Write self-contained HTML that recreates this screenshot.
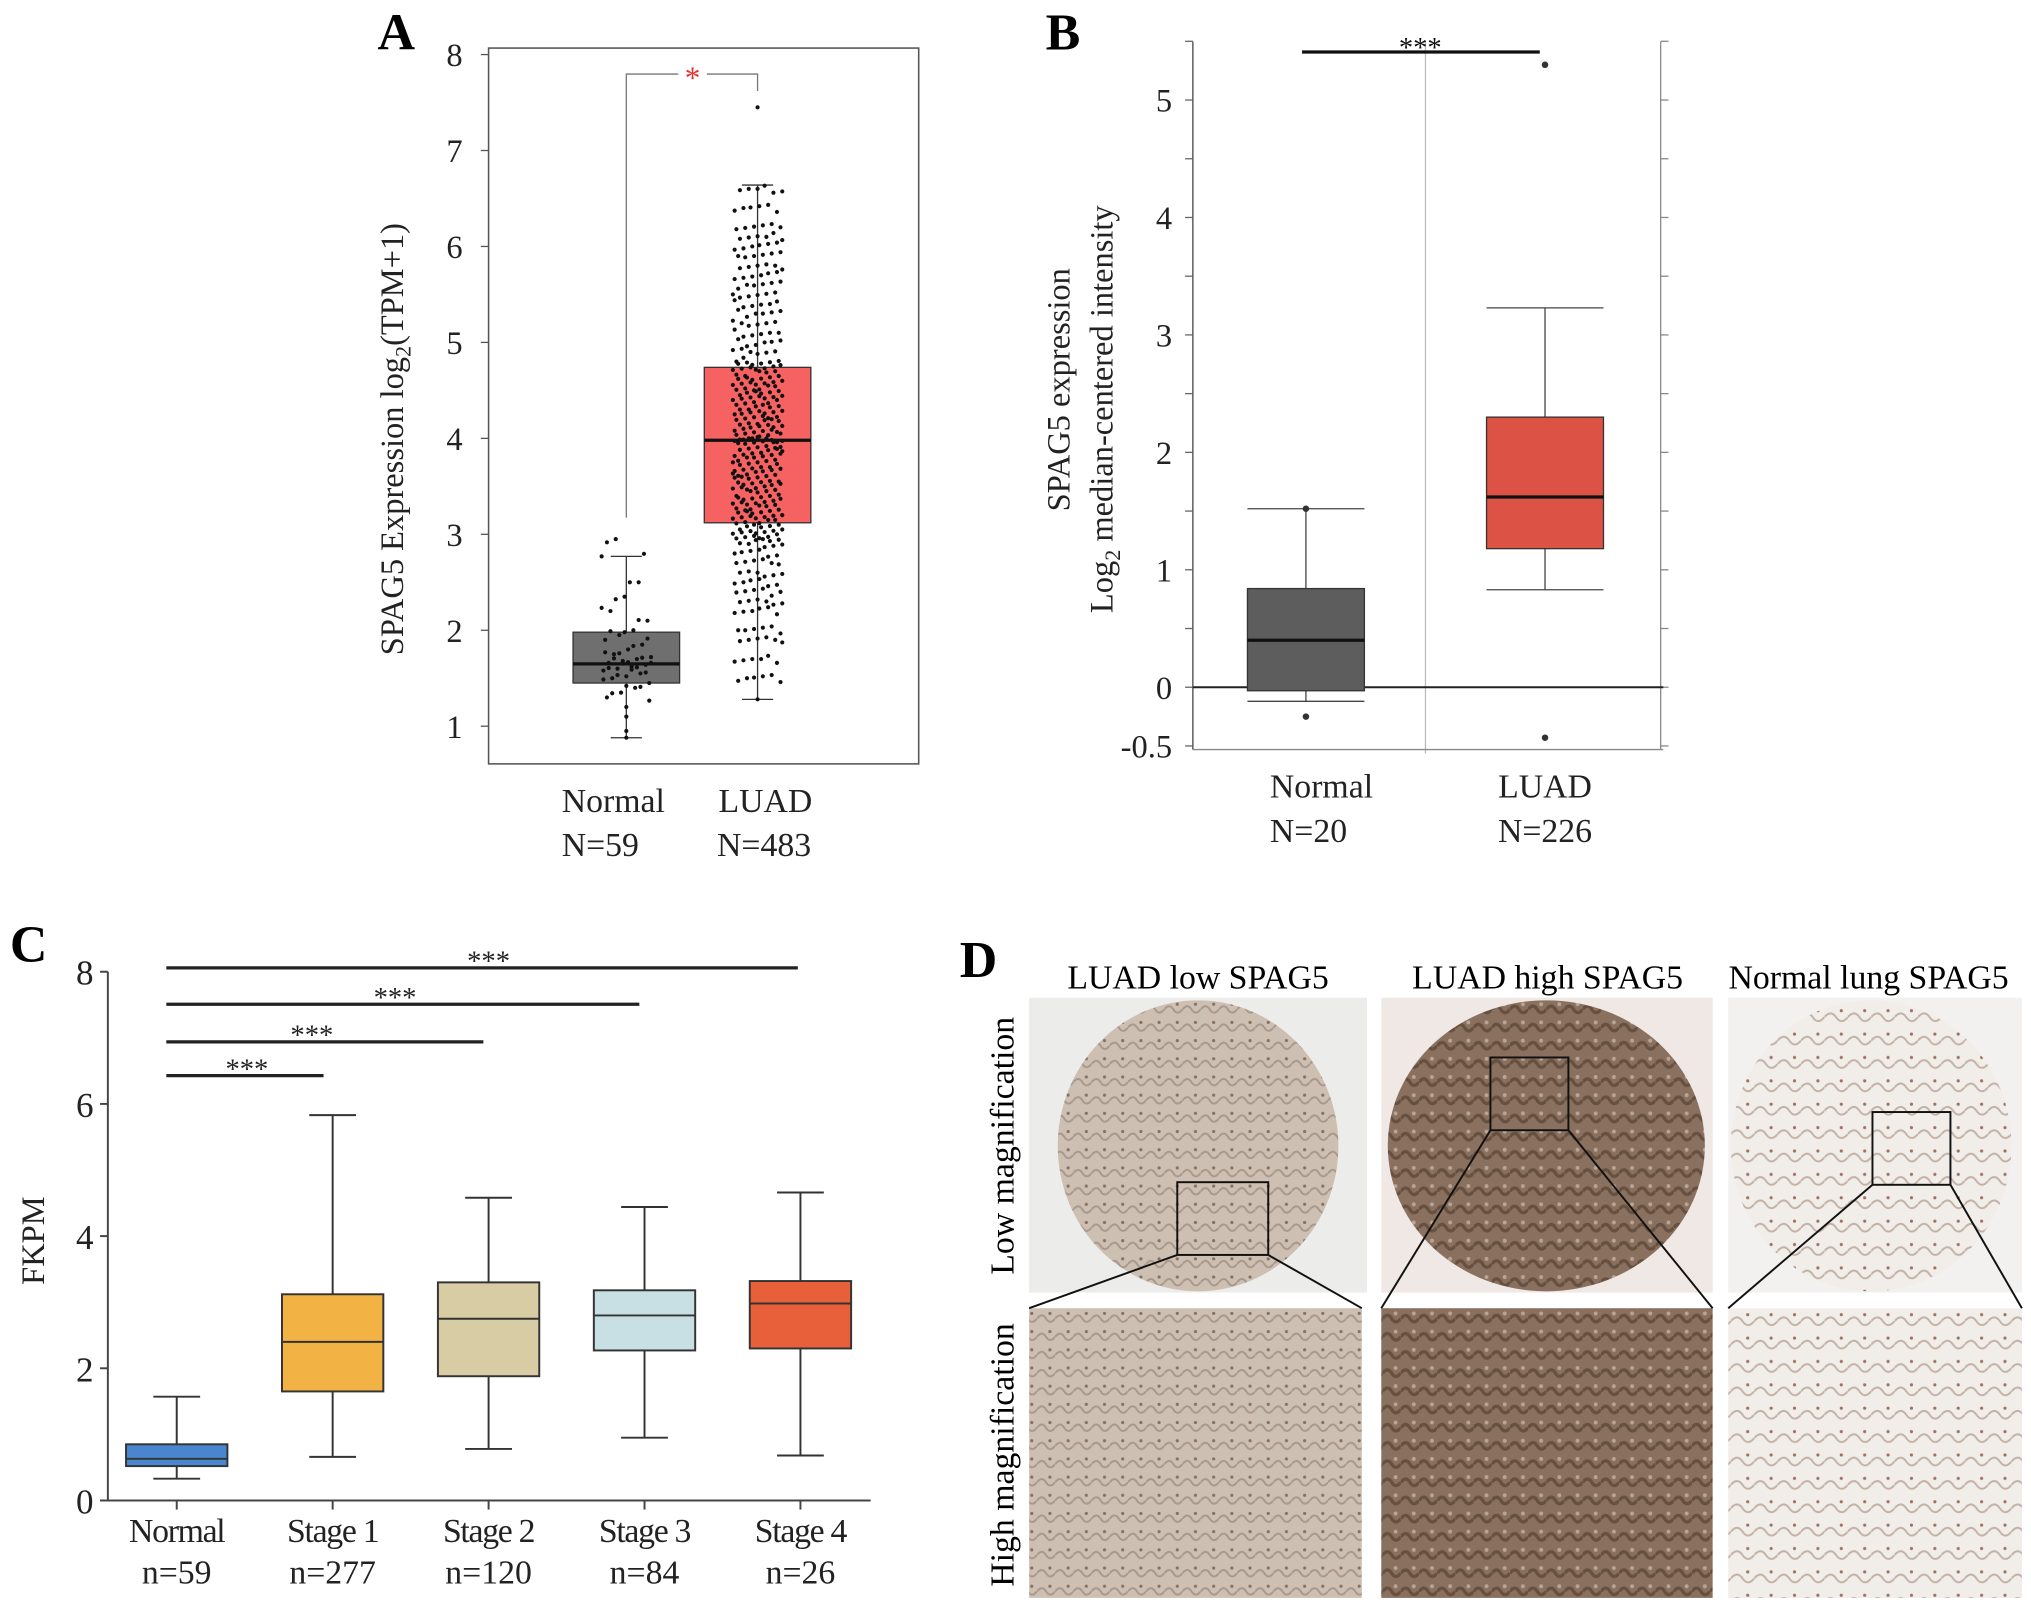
<!DOCTYPE html>
<html><head><meta charset="utf-8">
<style>
html,body{margin:0;padding:0;background:#fff;}
svg{display:block;font-family:"Liberation Serif",serif;}
</style></head>
<body>
<svg id="fig" width="2031" height="1607" viewBox="0 0 1563 1237" preserveAspectRatio="none" xmlns="http://www.w3.org/2000/svg">
<defs>
<pattern id="tex1" width="14" height="14" patternUnits="userSpaceOnUse"><rect width="14" height="14" fill="#cdbfb2"/><path d="M0 7 Q4 2 7 7 T14 7" stroke="#a8978a" fill="none" stroke-width="1.5"/><circle cx="10" cy="3" r="1.2" fill="#8a6f5c"/></pattern>
<pattern id="tex2" width="14" height="14" patternUnits="userSpaceOnUse"><rect width="14" height="14" fill="#8a705f"/><path d="M0 7 Q4 2 7 7 T14 7" stroke="#66503f" fill="none" stroke-width="2.5"/><circle cx="10" cy="3" r="1.5" fill="#b9a596"/></pattern>
<pattern id="tex3" width="18" height="18" patternUnits="userSpaceOnUse"><rect width="18" height="18" fill="#f1ede9"/><path d="M0 9 Q5 3 9 9 T18 9" stroke="#c4b1a5" fill="none" stroke-width="1.5"/><circle cx="13" cy="4" r="1.2" fill="#a07060"/></pattern>
</defs>
<g id="panelA"></g>
<g id="panelB"></g>
<g id="panelC"></g>
<g id="panelD">
  <text x="753" y="752" font-size="40" font-weight="bold" text-anchor="middle">D</text>
  <text x="922" y="761" font-size="26" text-anchor="middle">LUAD low SPAG5</text>
  <text x="1191" y="761" font-size="26" text-anchor="middle">LUAD high SPAG5</text>
  <text x="1438" y="761" font-size="26" text-anchor="middle">Normal lung SPAG5</text>
  <text transform="translate(780,882) rotate(-90)" font-size="26" text-anchor="middle">Low magnification</text>
  <text transform="translate(780,1120) rotate(-90)" font-size="26" text-anchor="middle">High magnification</text>
  <rect x="792" y="768" width="260" height="227" fill="#ececea"/>
  <ellipse cx="922" cy="882" rx="108" ry="112" fill="url(#tex1)"/>
  <rect x="906" y="910" width="70" height="56" fill="none" stroke="#111" stroke-width="1.5"/>
  <rect x="1063" y="768" width="255" height="227" fill="#efe8e4"/>
  <ellipse cx="1190" cy="882" rx="122" ry="112" fill="url(#tex2)"/>
  <rect x="1147" y="814" width="60" height="56" fill="none" stroke="#111" stroke-width="1.5"/>
  <rect x="1330" y="768" width="226" height="227" fill="#f3f1f0"/>
  <ellipse cx="1440" cy="882" rx="108" ry="112" fill="url(#tex3)"/>
  <rect x="1441" y="856" width="60" height="56" fill="none" stroke="#111" stroke-width="1.5"/>
  <rect x="792" y="1007" width="256" height="223" fill="url(#tex1)"/>
  <rect x="1063" y="1007" width="255" height="223" fill="url(#tex2)"/>
  <rect x="1330" y="1007" width="226" height="223" fill="url(#tex3)"/>
  <g stroke="#111" stroke-width="1.5">
    <line x1="906" y1="966" x2="792" y2="1007"/><line x1="976" y1="966" x2="1048" y2="1007"/>
    <line x1="1147" y1="870" x2="1063" y2="1007"/><line x1="1207" y1="870" x2="1318" y2="1007"/>
    <line x1="1441" y1="912" x2="1330" y2="1007"/><line x1="1501" y1="912" x2="1556" y2="1007"/>
  </g>
</g>
</svg>
<script>
// ---------- Panel A data ----------
const aCats = ["Normal", "LUAD"];
const aCounts = ["N=59", "N=483"];
const aTicks = [1,2,3,4,5,6,7,8];
const aWhiskLo = [0.88, 1.28];
const aQ1 = [1.45, 3.12];
const aMed = [1.65, 3.98];
const aQ3 = [1.98, 4.74];
const aWhiskHi = [2.77, 6.64];
const aNormalPts = [0.88,0.95,1.1,1.2,1.3,1.35,1.4,1.45,1.5,1.52,1.55,1.58,1.6,1.62,1.64,1.66,1.68,1.7,1.72,1.75,1.8,1.85,1.9,1.95,2.0,2.1,2.2,2.35,2.5,2.77,2.95];
const aLuadPts = [1.28,1.5,1.7,1.9,2.0,2.2,2.3,2.4,2.5,2.6,2.7,2.8,2.9,2.95,3.0,3.05,3.1,3.15,3.2,3.25,3.3,3.35,3.4,3.45,3.5,3.55,3.6,3.65,3.7,3.75,3.8,3.85,3.9,3.95,4.0,4.0,4.05,4.1,4.15,4.2,4.25,4.3,4.35,4.4,4.45,4.5,4.55,4.6,4.65,4.7,4.75,4.8,4.9,5.0,5.1,5.2,5.3,5.4,5.5,5.6,5.7,5.8,5.9,6.0,6.1,6.2,6.4,6.6,7.45];
// ---------- Panel B data ----------
const bCats = ["Normal", "LUAD"];
const bCounts = ["N=20", "N=226"];
const bTicks = [-0.5,0,1,2,3,4,5];
const bWhiskLo = [-0.12, 0.83];
const bQ1 = [-0.03, 1.18];
const bMed = [0.40, 1.62];
const bQ3 = [0.84, 2.30];
const bWhiskHi = [1.52, 3.23];
const bOutliers = [[-0.25, 1.52], [5.3, -0.43]];
// ---------- Panel C data ----------
const cCats = ["Normal", "Stage 1", "Stage 2", "Stage 3", "Stage 4"];
const cCounts = ["n=59", "n=277", "n=120", "n=84", "n=26"];
const cTicks = [0,2,4,6,8];
const cWhiskLo = [0.33, 0.66, 0.78, 0.95, 0.68];
const cQ1 = [0.52, 1.65, 1.88, 2.27, 2.30];
const cMed = [0.63, 2.40, 2.75, 2.80, 2.98];
const cQ3 = [0.85, 3.12, 3.30, 3.18, 3.32];
const cWhiskHi = [1.57, 5.83, 4.58, 4.44, 4.66];
const cColors = ["#4a86d0", "#f3b344", "#d8cca5", "#c8dfe4", "#e8603a"];
const cSigTo = [1, 2, 3, 4];

const NS = "http://www.w3.org/2000/svg";
function mk(parent, tag, attrs, text) {
  const e = document.createElementNS(NS, tag);
  for (const k in attrs) e.setAttribute(k, attrs[k]);
  if (text !== undefined) e.textContent = text;
  parent.appendChild(e);
  return e;
}
let el;

// ================= Panel A =================
(function(){
  const g = document.getElementById("panelA");
  const yA = v => 559 - (v - 1) * (559 - 42) / 7;
  const xA = i => [482, 583][i];
  el = mk(g, "text", {x:305, y:38, "font-size":40, "font-weight":"bold", "text-anchor":"middle"}, "A");
  
  
  el = mk(g, "rect", {x:376, y:37, width:331, height:551, fill:"none", stroke:"#555", "stroke-width":1.2});
  
  
  aTicks.forEach(t => {
    el = mk(g, "line", {x1:370, x2:376, y1:yA(t), y2:yA(t), stroke:"#555"});
    
    
    el = mk(g, "text", {x:356, y:yA(t)+9, "font-size":25, "text-anchor":"end", fill:"#222"}, t);
    
    
  });
  el = mk(g, "text", {transform:"translate(310,338) rotate(-90)", "font-size":25, "text-anchor":"middle", fill:"#222"});
  
  
  el.innerHTML = 'SPAG5 Expression log<tspan font-size="17" dy="6">2</tspan><tspan dy="-6">(TPM+1)</tspan>';
  const fills = ["#6f6f6f", "#f66262"];
  const labX = [472, 589], cntX = [462, 588];
  aCats.forEach((c, i) => {
    const x = xA(i), w = 41;
    el = mk(g, "line", {x1:x, x2:x, y1:yA(aWhiskLo[i]), y2:yA(aWhiskHi[i]), stroke:"#333", "stroke-width":1});
    
    
    [aWhiskLo[i], aWhiskHi[i]].forEach(v => {
      el = mk(g, "line", {x1:x-12, x2:x+12, y1:yA(v), y2:yA(v), stroke:"#333"});
      
      
    });
    el = mk(g, "rect", {x:x-w, y:yA(aQ3[i]), width:2*w, height:yA(aQ1[i])-yA(aQ3[i]), fill:fills[i], stroke:"#333", "stroke-width":1});
    
    
    el = mk(g, "line", {x1:x-w, x2:x+w, y1:yA(aMed[i]), y2:yA(aMed[i]), stroke:"#111", "stroke-width":2.5});
    
    
    el = mk(g, "text", {x:labX[i], y:625, "font-size":26, "text-anchor":"middle", fill:"#222"}, c);
    
    
    el = mk(g, "text", {x:cntX[i], y:659, "font-size":26, "text-anchor":"middle", fill:"#222"}, aCounts[i]);
    
    
  });
  const pts = [aNormalPts, aLuadPts];
  pts.forEach((arr, i) => {
    arr.forEach((v, j) => {
      const reps = (v > 6.65 || v < 1.3) ? 1 : (i === 0 ? 2 : 6);
      for (let r = 0; r < reps; r++) {
        const jit = reps === 1 ? 0 : (((j * 37 + r * 53) % 29) / 28 - 0.5) * 38;
        const dv = r === 0 ? 0 : ((((j * 17 + r * 11) % 13) / 12) - 0.5) * 0.08;
        el = mk(g, "circle", {cx:xA(i)+jit, cy:yA(v+dv), r:1.6, fill:"#111"});
        
        
      }
    });
  });
  el = mk(g, "path", {d:`M482 ${yA(3.12)-4} V57 H583 V70`, fill:"none", stroke:"#777", "stroke-width":1});
  
  
  el = mk(g, "rect", {x:522, y:48, width:22, height:16, fill:"#fff"});
  el = mk(g, "text", {x:533, y:68, "font-size":24, "text-anchor":"middle", fill:"#e83030"}, "*");
  
  
})();

// ================= Panel B =================
(function(){
  const g = document.getElementById("panelB");
  const yB = v => 529 - v * (529 - 77) / 5;
  const xB = i => [1005, 1189][i];
  el = mk(g, "text", {x:818, y:38, "font-size":40, "font-weight":"bold", "text-anchor":"middle"}, "B");
  
  
  el = mk(g, "line", {x1:918, x2:918, y1:32, y2:577, stroke:"#444"});
  
  
  el = mk(g, "line", {x1:1278, x2:1278, y1:32, y2:577, stroke:"#888"});
  
  
  el = mk(g, "line", {x1:1097, x2:1097, y1:32, y2:580, stroke:"#bbb"});
  
  
  el = mk(g, "line", {x1:918, x2:1280, y1:577, y2:577, stroke:"#888"});
  
  
  for (let k = -0.5; k <= 5.5; k += 0.5) {
    el = mk(g, "line", {x1:912, x2:918, y1:yB(k), y2:yB(k), stroke:"#666"});
    el = mk(g, "line", {x1:1278, x2:1284, y1:yB(k), y2:yB(k), stroke:"#888"});
  }
  bTicks.forEach(t => {
    el = mk(g, "text", {x:902, y:yB(t)+9, "font-size":25, "text-anchor":"end", fill:"#222"}, t);
    
    
  });
  el = mk(g, "line", {x1:918, x2:1280, y1:yB(0), y2:yB(0), stroke:"#222", "stroke-width":1.5});
  
  
  el = mk(g, "text", {transform:"translate(823,300) rotate(-90)", "font-size":25, "text-anchor":"middle", fill:"#222"}, "SPAG5 expression");
  
  
  el = mk(g, "text", {transform:"translate(856,315) rotate(-90)", "font-size":25, "text-anchor":"middle", fill:"#222"});
  
  
  el.innerHTML = 'Log<tspan font-size="17" dy="6">2</tspan><tspan dy="-6"> median-centered intensity</tspan>';
  const fills = ["#5d5d5d", "#dc5245"];
  bCats.forEach((c, i) => {
    const x = xB(i), w = 45;
    el = mk(g, "line", {x1:x, x2:x, y1:yB(bWhiskLo[i]), y2:yB(bWhiskHi[i]), stroke:"#444"});
    
    
    [bWhiskLo[i], bWhiskHi[i]].forEach(v => {
      el = mk(g, "line", {x1:x-45, x2:x+45, y1:yB(v), y2:yB(v), stroke:"#444"});
      
      
    });
    el = mk(g, "rect", {x:x-w, y:yB(bQ3[i]), width:2*w, height:yB(bQ1[i])-yB(bQ3[i]), fill:fills[i], stroke:"#333"});
    
    
    el = mk(g, "line", {x1:x-w, x2:x+w, y1:yB(bMed[i]), y2:yB(bMed[i]), stroke:"#111", "stroke-width":2.5});
    
    
    bOutliers[i].forEach(v => {
      el = mk(g, "circle", {cx:x, cy:yB(v), r:2.5, fill:"#333"});
      
      
    });
    el = mk(g, "text", {x:x+12-i*12, y:614, "font-size":26, "text-anchor":"middle", fill:"#222"}, c);
    
    
    el = mk(g, "text", {x:x+2-i*2, y:648, "font-size":26, "text-anchor":"middle", fill:"#222"}, bCounts[i]);
    
    
  });
  el = mk(g, "line", {x1:1002, x2:1185, y1:40, y2:40, stroke:"#111", "stroke-width":2.5});
  
  
  el = mk(g, "text", {x:1093, y:44, "font-size":22, "text-anchor":"middle", fill:"#111"}, "***");
  
  
})();

// ================= Panel C =================
(function(){
  const g = document.getElementById("panelC");
  const yC = v => 1155 - v * (1155 - 748) / 8;
  const xC = i => 136 + i * 120;
  el = mk(g, "text", {x:22, y:740, "font-size":40, "font-weight":"bold", "text-anchor":"middle"}, "C");
  
  
  el = mk(g, "line", {x1:83, x2:83, y1:748, y2:1155, stroke:"#444", "stroke-width":1.5});
  
  
  el = mk(g, "line", {x1:77, x2:670, y1:1155, y2:1155, stroke:"#444", "stroke-width":1.5});
  
  
  cTicks.forEach(t => {
    el = mk(g, "line", {x1:77, x2:83, y1:yC(t), y2:yC(t), stroke:"#444", "stroke-width":1.5});
    
    
    el = mk(g, "text", {x:72, y:yC(t)+10, "font-size":27, "text-anchor":"end", fill:"#222"}, t);
    
    
  });
  el = mk(g, "text", {transform:"translate(34,955) rotate(-90)", "font-size":25, "text-anchor":"middle", fill:"#222"}, "FKPM");
  
  
  cCats.forEach((c, i) => {
    const x = xC(i), w = 39;
    el = mk(g, "line", {x1:x, x2:x, y1:1155, y2:1162, stroke:"#444", "stroke-width":1.5});
    
    
    el = mk(g, "line", {x1:x, x2:x, y1:yC(cWhiskLo[i]), y2:yC(cWhiskHi[i]), stroke:"#333", "stroke-width":1.5});
    
    
    [cWhiskLo[i], cWhiskHi[i]].forEach(v => {
      el = mk(g, "line", {x1:x-18, x2:x+18, y1:yC(v), y2:yC(v), stroke:"#333", "stroke-width":1.5});
      
      
    });
    el = mk(g, "rect", {x:x-w, y:yC(cQ3[i]), width:2*w, height:yC(cQ1[i])-yC(cQ3[i]), fill:cColors[i], stroke:"#333", "stroke-width":1.5});
    
    
    el = mk(g, "line", {x1:x-w, x2:x+w, y1:yC(cMed[i]), y2:yC(cMed[i]), stroke:"#333", "stroke-width":1.5});
    
    
    el = mk(g, "text", {x:x, y:1187, "font-size":26, "text-anchor":"middle", fill:"#222", "letter-spacing":"-1"}, c);
    
    
    el = mk(g, "text", {x:x, y:1219, "font-size":26, "text-anchor":"middle", fill:"#222"}, cCounts[i]);
    
    
  });
  const sigY = [828, 802, 773, 745];
  cSigTo.forEach((to, k) => {
    const x1 = 128, x2 = xC(to) - 4 + (to === 1 ? -3 : 0) + (to === 4 ? 2 : 0);
    el = mk(g, "line", {x1:x1, x2:x2, y1:sigY[k], y2:sigY[k], stroke:"#222", "stroke-width":2.5});
    
    
    const cx = [190, 240, 304, 376][k];
    el = mk(g, "text", {x:cx, y:sigY[k]+2, "font-size":22, "text-anchor":"middle", fill:"#222"}, "***");
    
    
  });
})();
</script>
</body></html>
